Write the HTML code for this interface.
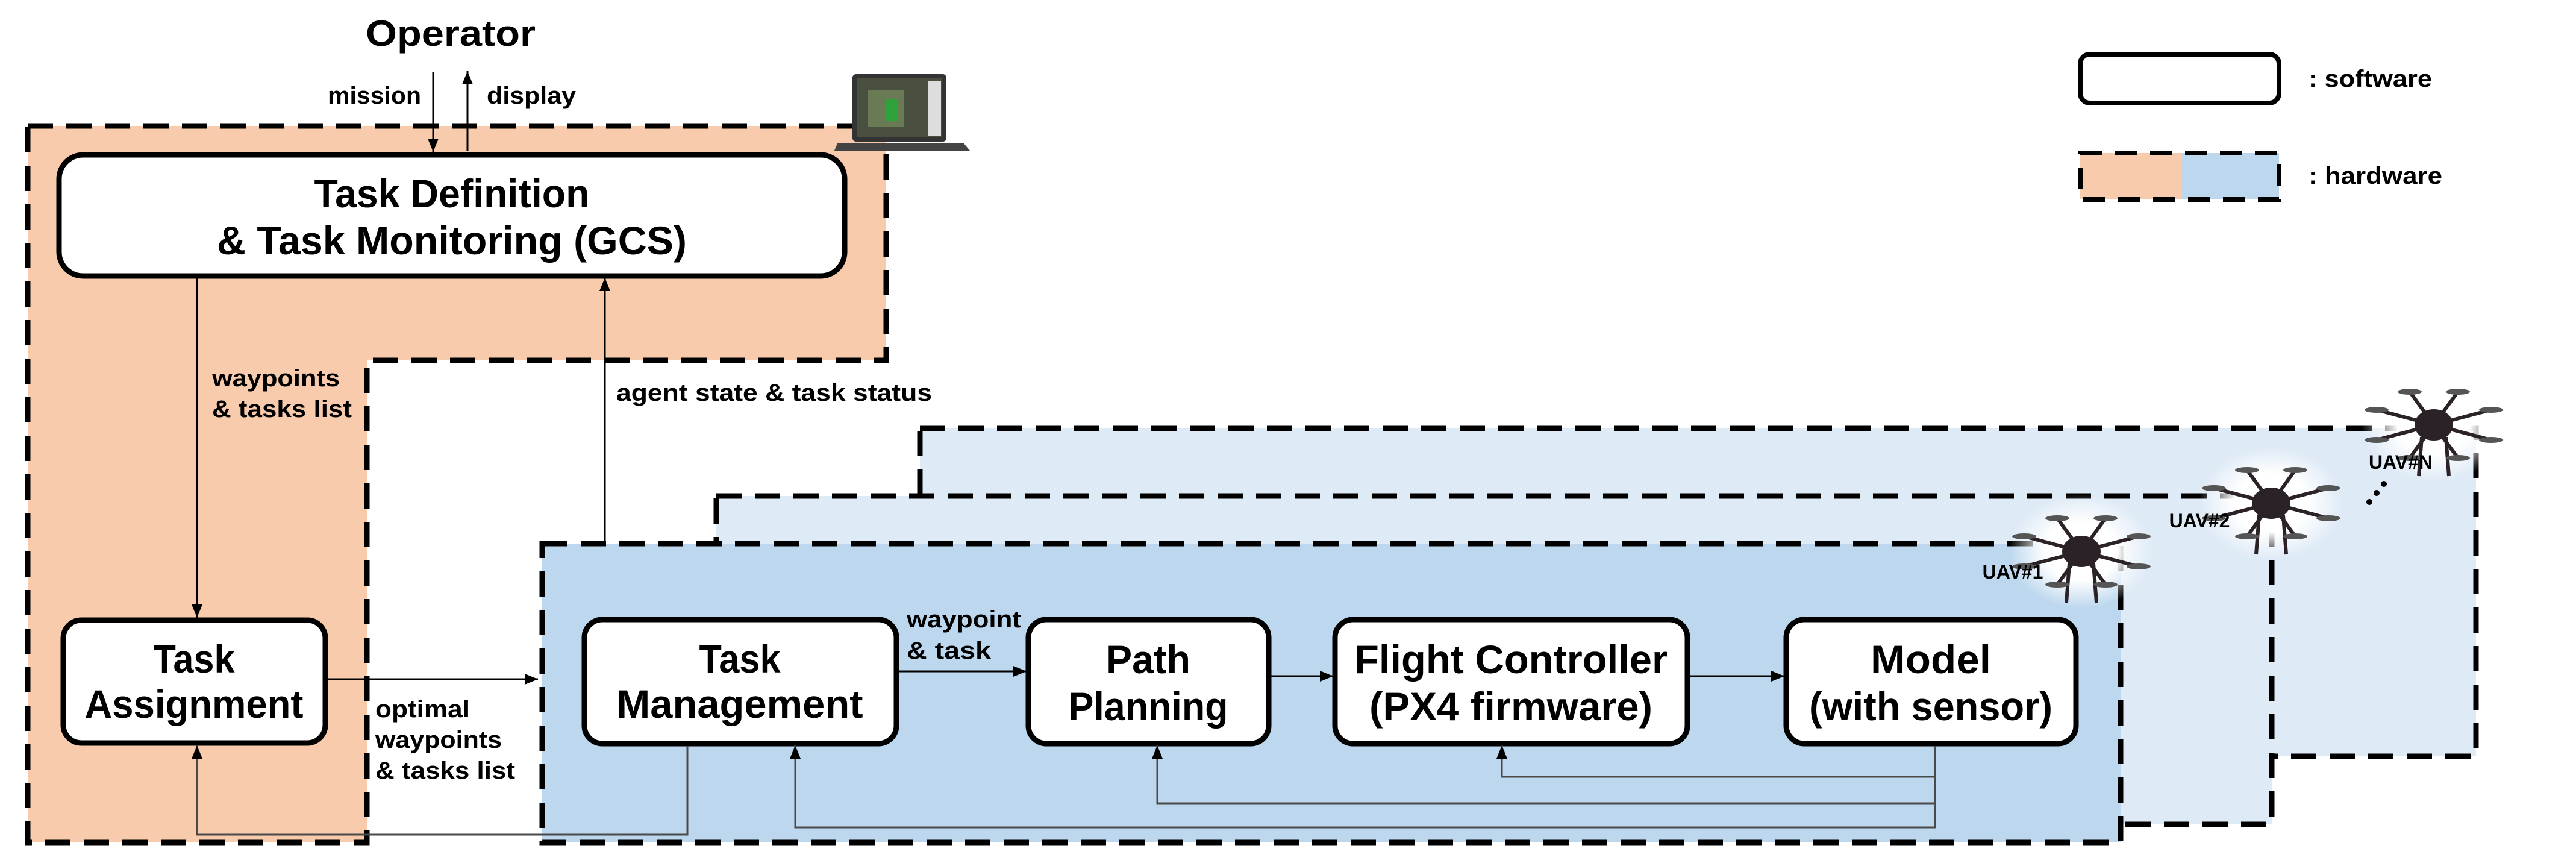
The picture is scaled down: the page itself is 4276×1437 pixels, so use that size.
<!DOCTYPE html>
<html><head><meta charset="utf-8"><style>
html,body{margin:0;padding:0;background:#fff;}
svg{display:block;}
text{font-family:"Liberation Sans",sans-serif;font-weight:bold;fill:#000;}
</style></head><body>
<svg width="4276" height="1437" viewBox="0 0 4276 1437" xmlns="http://www.w3.org/2000/svg">
<defs>
<marker id="a" markerWidth="8" markerHeight="8" refX="7" refY="4" orient="auto" markerUnits="userSpaceOnUse" viewBox="0 0 8 8">
</marker>
<marker id="ar" viewBox="0 0 10 10" refX="10" refY="5" markerWidth="22" markerHeight="18" markerUnits="userSpaceOnUse" orient="auto" preserveAspectRatio="none">
<path d="M0,0 L10,5 L0,10 z" fill="#000"/></marker>
<radialGradient id="glow"><stop offset="0.5" stop-color="#fff" stop-opacity="1"/><stop offset="1" stop-color="#fff" stop-opacity="0"/></radialGradient>
<g id="drone">
<ellipse cx="0" cy="0" rx="120" ry="95" fill="url(#glow)"/>
<g stroke="#2a2226" stroke-width="6" fill="none">
<line x1="-95" y1="-25" x2="95" y2="25"/><line x1="-95" y1="25" x2="95" y2="-25"/>
<line x1="-40" y1="-55" x2="40" y2="55"/><line x1="40" y1="-55" x2="-40" y2="55"/>
<line x1="-20" y1="20" x2="-25" y2="85"/><line x1="20" y1="20" x2="25" y2="85"/>
</g>
<ellipse cx="0" cy="0" rx="32" ry="26" fill="#2a2226"/>
<g fill="#555"><ellipse cx="-95" cy="-25" rx="20" ry="5"/><ellipse cx="95" cy="25" rx="20" ry="5"/><ellipse cx="-95" cy="25" rx="20" ry="5"/><ellipse cx="95" cy="-25" rx="20" ry="5"/><ellipse cx="-40" cy="-55" rx="20" ry="5"/><ellipse cx="40" cy="55" rx="20" ry="5"/><ellipse cx="40" cy="-55" rx="20" ry="5"/><ellipse cx="-40" cy="55" rx="20" ry="5"/></g>
</g>
</defs>

<!-- orange L region -->
<path d="M46,209 L1471,209 L1471,598 L609,598 L609,1398 L46,1398 Z" fill="#f8cbad" stroke="#000" stroke-width="9" stroke-dasharray="42 22"/>

<!-- UAV boxes -->
<rect x="1527" y="711" width="2583" height="544" fill="#deeaf6" stroke="#000" stroke-width="9" stroke-dasharray="42 22"/>
<rect x="1189" y="823" width="2582" height="545" fill="#deeaf6" stroke="#000" stroke-width="9" stroke-dasharray="42 22"/>
<rect x="900" y="902" width="2620" height="496" fill="#bdd7ee" stroke="#000" stroke-width="9" stroke-dasharray="42 22"/>

<!-- drones -->
<use href="#drone" x="4040" y="705"/>
<use href="#drone" x="3770" y="835"/>
<use href="#drone" x="3455" y="915"/>
<text x="3985" y="778" font-size="32" text-anchor="middle">UAV#N</text>
<text x="3651" y="875" font-size="32" text-anchor="middle">UAV#2</text>
<text x="3341" y="960" font-size="32" text-anchor="middle">UAV#1</text>
<g fill="#000"><circle cx="3933" cy="833" r="5"/><circle cx="3945" cy="818" r="5"/><circle cx="3957" cy="803" r="5"/></g>

<!-- laptop -->
<g>
<rect x="1415" y="123" width="156" height="112" rx="6" fill="#333"/>
<rect x="1422" y="130" width="142" height="98" fill="#4a5040"/>
<rect x="1440" y="150" width="60" height="60" fill="#6a7a55"/>
<rect x="1470" y="165" width="20" height="35" fill="#2fa23a"/>
<rect x="1540" y="135" width="22" height="90" fill="#ddd"/>
<path d="M1390,238 L1600,238 L1610,250 L1385,250 Z" fill="#444"/>
</g>

<!-- software boxes -->
<g fill="#fff" stroke="#000" stroke-width="9">
<rect x="98" y="257" width="1304" height="201" rx="40"/>
<rect x="105" y="1029" width="435" height="204" rx="30"/>
<rect x="970" y="1028" width="518" height="206" rx="30"/>
<rect x="1707" y="1028" width="399" height="206" rx="30"/>
<rect x="2216" y="1028" width="585" height="206" rx="30"/>
<rect x="2965" y="1028" width="481" height="206" rx="30"/>
</g>

<!-- box texts -->
<text x="750" y="344" font-size="66" text-anchor="middle" textLength="457" lengthAdjust="spacingAndGlyphs">Task Definition</text>
<text x="750" y="422" font-size="66" text-anchor="middle" textLength="780" lengthAdjust="spacingAndGlyphs">&amp; Task Monitoring (GCS)</text>
<text x="322" y="1116" font-size="66" text-anchor="middle" textLength="135" lengthAdjust="spacingAndGlyphs">Task</text>
<text x="322" y="1191" font-size="66" text-anchor="middle" textLength="363" lengthAdjust="spacingAndGlyphs">Assignment</text>
<text x="1228" y="1116" font-size="66" text-anchor="middle" textLength="135" lengthAdjust="spacingAndGlyphs">Task</text>
<text x="1228" y="1191" font-size="66" text-anchor="middle" textLength="409" lengthAdjust="spacingAndGlyphs">Management</text>
<text x="1906" y="1117" font-size="66" text-anchor="middle" textLength="140" lengthAdjust="spacingAndGlyphs">Path</text>
<text x="1906" y="1195" font-size="66" text-anchor="middle" textLength="265" lengthAdjust="spacingAndGlyphs">Planning</text>
<text x="2508" y="1117" font-size="66" text-anchor="middle" textLength="520" lengthAdjust="spacingAndGlyphs">Flight Controller</text>
<text x="2508" y="1195" font-size="66" text-anchor="middle" textLength="470" lengthAdjust="spacingAndGlyphs">(PX4 firmware)</text>
<text x="3205" y="1117" font-size="66" text-anchor="middle" textLength="200" lengthAdjust="spacingAndGlyphs">Model</text>
<text x="3205" y="1195" font-size="66" text-anchor="middle" textLength="404" lengthAdjust="spacingAndGlyphs">(with sensor)</text>

<!-- operator -->
<text x="748" y="76" font-size="60" text-anchor="middle" textLength="282" lengthAdjust="spacingAndGlyphs">Operator</text>
<text x="699" y="172" font-size="40" text-anchor="end" textLength="155" lengthAdjust="spacingAndGlyphs">mission</text>
<text x="808" y="172" font-size="40" textLength="148" lengthAdjust="spacingAndGlyphs">display</text>

<!-- arrows -->
<g stroke="#000" stroke-width="3" fill="none">
<line x1="719" y1="119" x2="719" y2="252" marker-end="url(#ar)"/>
<line x1="776" y1="250" x2="776" y2="118" marker-end="url(#ar)"/>
<line x1="327" y1="460" x2="327" y2="1025" marker-end="url(#ar)"/>
<line x1="1004" y1="900" x2="1004" y2="461" marker-end="url(#ar)"/>
<line x1="544" y1="1127" x2="893" y2="1127" marker-end="url(#ar)"/>
<line x1="1492" y1="1114" x2="1704" y2="1114" marker-end="url(#ar)"/>
<line x1="2110" y1="1122" x2="2213" y2="1122" marker-end="url(#ar)"/>
<line x1="2805" y1="1122" x2="2962" y2="1122" marker-end="url(#ar)"/>
</g>
<g stroke="#4a4a4a" stroke-width="3" fill="none">
<polyline points="1141,1238 1141,1385 327,1385 327,1237" marker-end="url(#ar)"/>
<polyline points="3212,1238 3212,1373 1320,1373 1320,1237" marker-end="url(#ar)"/>
<polyline points="3212,1333 1921,1333 1921,1237" marker-end="url(#ar)"/>
<polyline points="3212,1289 2493,1289 2493,1237" marker-end="url(#ar)"/>
</g>

<!-- labels -->
<text x="352" y="641" font-size="40" textLength="212" lengthAdjust="spacingAndGlyphs">waypoints</text>
<text x="352" y="692" font-size="40" textLength="232" lengthAdjust="spacingAndGlyphs">&amp; tasks list</text>
<text x="1023" y="665" font-size="40" textLength="524" lengthAdjust="spacingAndGlyphs">agent state &amp; task status</text>
<text x="623" y="1190" font-size="40" textLength="157" lengthAdjust="spacingAndGlyphs">optimal</text>
<text x="623" y="1241" font-size="40" textLength="210" lengthAdjust="spacingAndGlyphs">waypoints</text>
<text x="623" y="1292" font-size="40" textLength="232" lengthAdjust="spacingAndGlyphs">&amp; tasks list</text>
<text x="1505" y="1041" font-size="40" textLength="190" lengthAdjust="spacingAndGlyphs">waypoint</text>
<text x="1505" y="1093" font-size="40" textLength="140" lengthAdjust="spacingAndGlyphs">&amp; task</text>

<!-- legend -->
<rect x="3453" y="90" width="330" height="81" rx="16" fill="#fff" stroke="#000" stroke-width="8"/>
<text x="3832" y="144" font-size="40" textLength="205" lengthAdjust="spacingAndGlyphs">: software</text>
<rect x="3453" y="254" width="169" height="77" fill="#f8cbad"/>
<rect x="3622" y="254" width="161" height="77" fill="#bdd7ee"/>
<rect x="3453" y="254" width="330" height="77" fill="none" stroke="#000" stroke-width="8" stroke-dasharray="36 22"/>
<text x="3832" y="305" font-size="40" textLength="222" lengthAdjust="spacingAndGlyphs">: hardware</text>
</svg>
</body></html>
